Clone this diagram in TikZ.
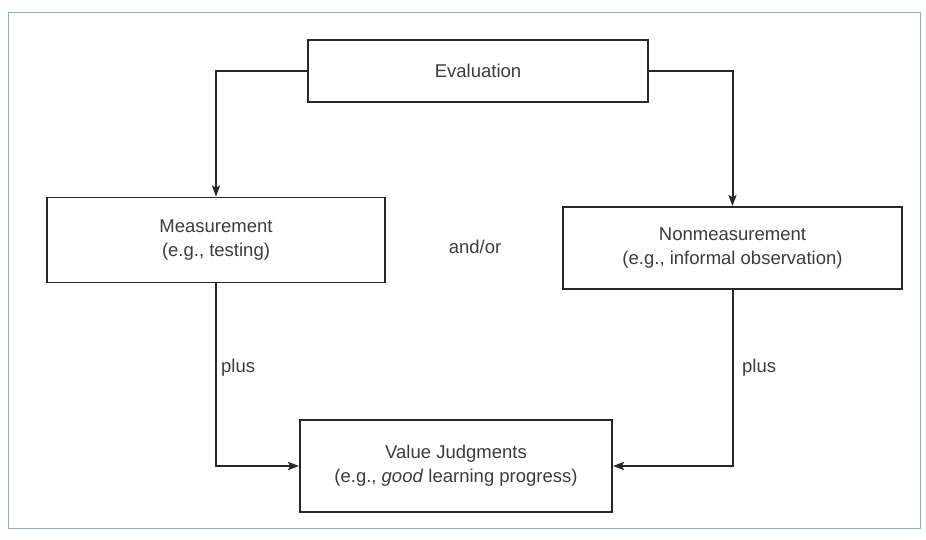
\documentclass[tikz,border=0pt]{standalone}
\usepackage{fontspec}
\setmainfont{Liberation Sans}
\usetikzlibrary{arrows.meta}
\definecolor{inkgray}{RGB}{40,40,40}
\definecolor{textgray}{RGB}{60,60,60}
\definecolor{framecol}{RGB}{130,180,185}
\tikzset{
  box/.style={draw=inkgray, line width=1.8pt, fill=white, align=center,
              text=textgray, font=\fontsize{18.5}{24}\selectfont, inner sep=0pt},
  link/.style={draw=inkgray, line width=2pt,
               -{Stealth[length=11pt,width=8pt,inset=2pt]}},
  lbl/.style={text=textgray, font=\fontsize{18.5}{22}\selectfont, inner sep=0pt}
}
\begin{document}
\begin{tikzpicture}[x=1pt,y=-1pt]
  \useasboundingbox (0,0) rectangle (926,539);
  % outer frame
  \draw[framecol, line width=1pt] (8,12) rectangle (920,528);

  % boxes
  \node[box, minimum width=340pt, minimum height=62pt] (eval) at (478,71) {Evaluation};
  \node[box, minimum width=338pt, minimum height=85pt] (meas) at (216,240)
       {Measurement\\(e.g., testing)};
  \node[box, minimum width=339pt, minimum height=82pt] (non) at (732.5,248)
       {Nonmeasurement\\(e.g., informal observation)};
  \node[box, minimum width=312pt, minimum height=92pt] (val) at (456,466)
       {Value Judgments\\(e.g., \textit{good} learning progress)};

  % labels
  \node[lbl] (andor) at (475,247) {and/or};
  \node[lbl, anchor=west] (plusL) at (221,368) {plus};
  \node[lbl, anchor=west] (plusR) at (742,368) {plus};

  % connectors
  \draw[link] (eval.west) -| (meas.north);
  \draw[link] (eval.east) -| (non.north);
  \draw[link] (meas.south) |- (val.west);
  \draw[link] (non.south) |- (val.east);
\end{tikzpicture}
\end{document}
